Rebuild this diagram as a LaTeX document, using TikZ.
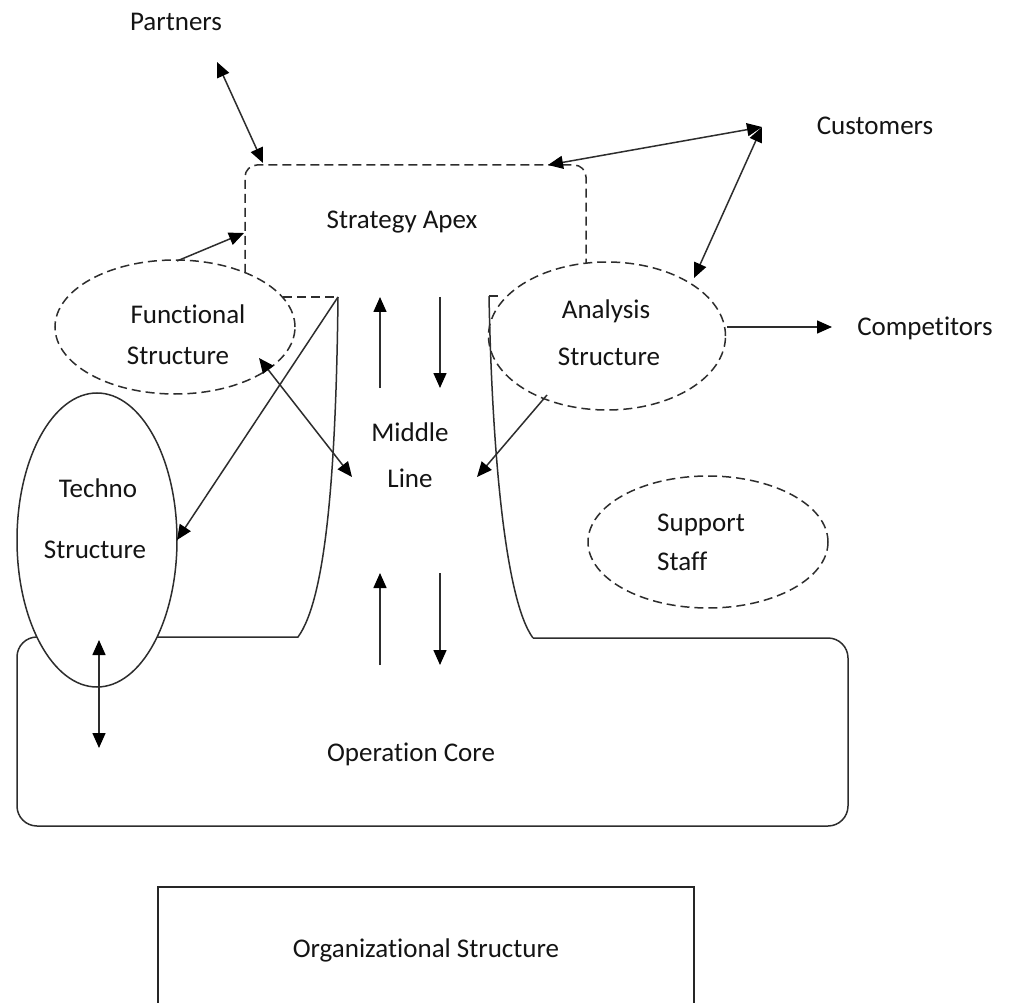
\documentclass[tikz,border=0pt]{standalone}
\usepackage{fontspec}
\setmainfont{Carlito}[Ligatures=NoCommon]
\usetikzlibrary{arrows.meta,shapes.geometric}
\definecolor{lc}{RGB}{45,45,45}
\definecolor{tc}{RGB}{20,20,20}
\begin{document}
\begin{tikzpicture}[x=1pt,y=-1pt,
  ln/.style={draw=lc, line width=1.5pt},
  dsh/.style={ln, dash pattern=on 9pt off 5pt},
  tip/.style={-{Triangle[length=15pt,width=13pt,color=black]}},
  dtip/.style={{Triangle[length=15pt,width=13pt,color=black]}-{Triangle[length=15pt,width=13pt,color=black]}},
  lbl/.style={inner sep=0pt, text height=17pt, text depth=0pt, font=\fontsize{27}{32}\selectfont, text=tc},
  ell/.style={ellipse, inner sep=0pt, outer sep=0pt},
]
\useasboundingbox (0,0) rectangle (1010,1003);
\clip (0,0) rectangle (1010,1003);
\fill[white] (0,0) rectangle (1010,1003);

% Strategy apex (dashed, open at the bottom)
\draw[dsh, rounded corners=12] (245,273) -- (245,165) -- (586,165) -- (586,263);
\node[lbl] (apex) at (402,220) {Strategy Apex};

% Middle line boundaries and operating core
\coordinate (lt) at (338,297);
\coordinate (rt) at (489,296);
\draw[ln] (lt) .. controls (336,480) and (325,600) .. (298,637) -- (150,637);
\draw[ln, rounded corners=20] (150,637) -- (17,637) -- (17,826) -- (848,826) -- (848,638) -- (533,638);
\draw[ln] (533,638) .. controls (505,600) and (492,450) .. (rt);

% small dashed links to the ellipses
\draw[dsh] (283,297) -- (lt);
\draw[dsh] (rt) -- (502,296);

% ellipses
\node[ell, dsh, minimum width=240pt, minimum height=134pt] (func) at (175,327) {};
\node[ell, dsh, minimum width=237pt, minimum height=148pt] (anal) at (607,336) {};
\node[ell, dsh, minimum width=240pt, minimum height=132pt] (supp) at (708,542) {};
\node[ell, ln, fill=white, minimum width=160pt, minimum height=294pt] (techno) at (97,540) {};

% labels
\node[lbl] (partners) at (176,22) {Partners};
\node[lbl] (customers) at (875,126) {Customers};
\node[lbl] (competitors) at (925,327) {Competitors};
\node[lbl] (func1) at (188,315) {Functional};
\node[lbl] (func2) at (178,356) {Structure};
\node[lbl] (anal1) at (606,310) {Analysis};
\node[lbl] (anal2) at (609,357) {Structure};
\node[lbl] (mid1) at (410,433) {Middle};
\node[lbl] (mid2) at (410,479) {Line};
\node[lbl] (tech1) at (98,489) {Techno};
\node[lbl] (tech2) at (95,550) {Structure};
\node[lbl, anchor=west] (supp1) at (657,523) {Support};
\node[lbl, anchor=west] (supp2) at (657,562) {Staff};
\node[lbl] (core) at (411,753) {Operation Core};
\node[draw=black!85, line width=1.5pt, minimum width=536pt, minimum height=126pt, font=\fontsize{27}{32}\selectfont, text=tc] (org) at (426,950) {Organizational Structure};

% connector end points
\coordinate (pA) at (217,62);
\coordinate (pB) at (263,163);
\coordinate (cJ) at (762,127);
\coordinate (cL) at (548,165);
\coordinate (cD) at (694,278);
\coordinate (fa1) at (177,261);
\coordinate (fa2) at (244,233);
\coordinate (fm1) at (259,358);
\coordinate (fm2) at (352,477);
\coordinate (am1) at (547,395);
\coordinate (am2) at (477,477);
\coordinate (co1) at (727,327);
\coordinate (co2) at (832,327);
\coordinate (tA) at (99,640);
\coordinate (tB) at (99,748);
\coordinate (u1a) at (380,388);
\coordinate (u1b) at (380,297);
\coordinate (d1a) at (440,297);
\coordinate (d1b) at (440,388);
\coordinate (u2a) at (380,665);
\coordinate (u2b) at (380,573);
\coordinate (d2a) at (440,573);
\coordinate (d2b) at (440,665);

% connectors
\draw[ln, dtip] (pA) -- (pB);
\draw[ln, dtip] (cJ) -- (cL);
\draw[ln, dtip] (cJ) -- (cD);
\draw[ln, tip] (fa1) -- (fa2);
\draw[ln, tip] (lt) -- (techno.east);
\draw[ln, dtip] (fm1) -- (fm2);
\draw[ln, tip] (am1) -- (am2);
\draw[ln, tip] (co1) -- (co2);
\draw[ln, dtip] (tA) -- (tB);
\draw[ln, tip] (u1a) -- (u1b);
\draw[ln, tip] (d1a) -- (d1b);
\draw[ln, tip] (u2a) -- (u2b);
\draw[ln, tip] (d2a) -- (d2b);
\end{tikzpicture}
\end{document}
